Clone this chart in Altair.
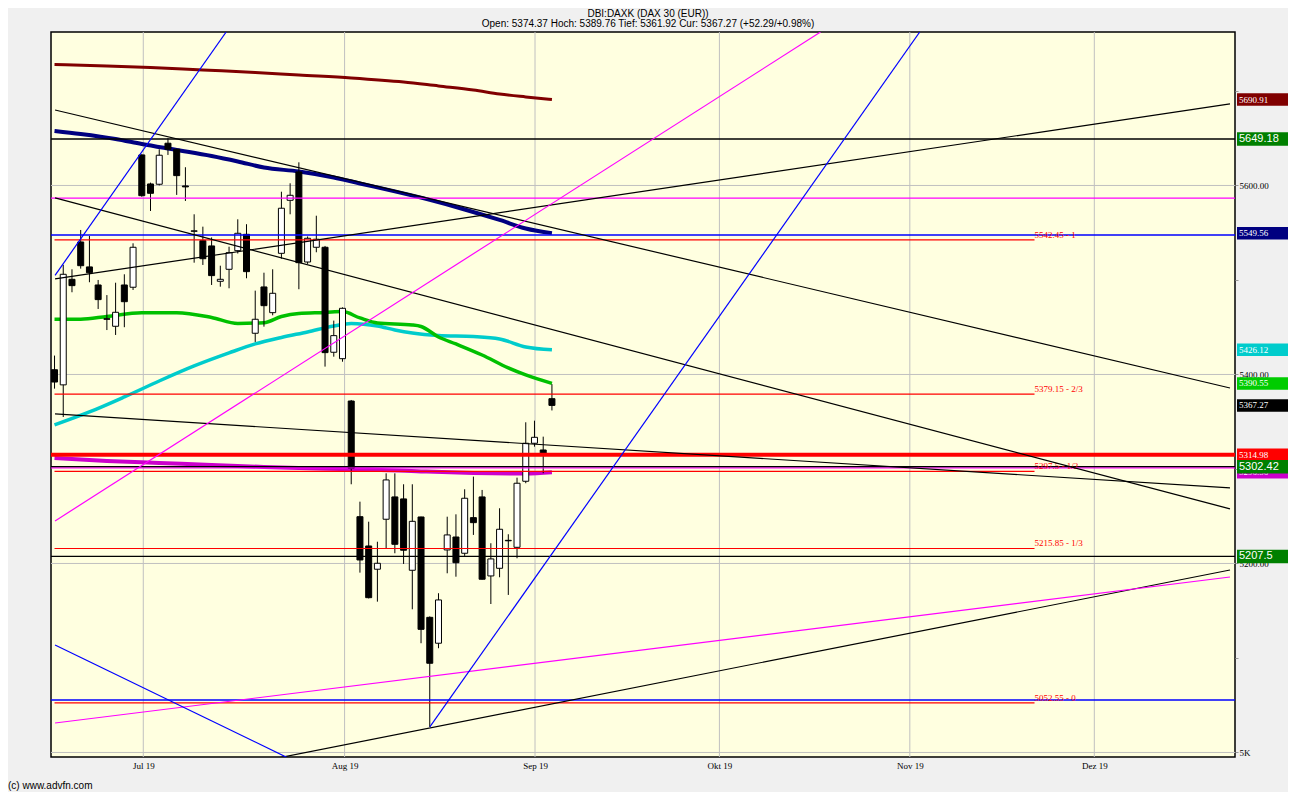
import altair as alt
import pandas as pd

# ---------------- data ----------------
# trading-day index (0 = first trading day of July 2019)
idx = list(range(-10, 48))
opens = [5405, 5389, 5500.7, 5540.2, 5513.8, 5494.7, 5459, 5451, 5494.7, 5492.3,
         5632.3, 5601.6, 5601.3, 5644.7, 5638.3, 5599.5, 5551.5, 5541.6, 5536, 5498.6,
         5511.3, 5531, 5548.3, 5443.6, 5492.6, 5465.4, 5528.2, 5584.3, 5614.3, 5519,
         5534.6, 5534.6, 5423.5, 5416.7, 5371.9, 5249.5, 5218.5, 5193.9, 5246.8, 5270.4,
         5268.3, 5192.8, 5249.2, 5143, 5115.6, 5214.3, 5228, 5210.8, 5248.5, 5270.4,
         5186.8, 5194.9, 5224.5, 5217.1, 5287, 5327.2, 5320.1, 5374.37]
highs = [5420, 5516, 5511.3, 5552.9, 5546.6, 5500, 5484, 5497.1, 5506, 5538.8,
         5633, 5603, 5638.3, 5650, 5639, 5619.3, 5569.5, 5556.4, 5545, 5515.1,
         5535.2, 5564.2, 5559, 5488.7, 5507.7, 5511.3, 5593.4, 5602.3, 5624.5, 5546,
         5568, 5536, 5457, 5471, 5373, 5265.4, 5244.2, 5223, 5295.4, 5295.4,
         5283.8, 5283.8, 5249.5, 5144, 5168.5, 5249.5, 5252, 5278.5, 5291.9, 5277.8,
         5221.4, 5258.4, 5230.9, 5290.8, 5349.4, 5351.1, 5334.2, 5389.76]
lows = [5385, 5355, 5487, 5512, 5497.6, 5469.3, 5447, 5441.8, 5450, 5489.4,
        5588, 5573, 5600, 5632.3, 5590, 5583.6, 5518.3, 5515.9, 5494.7, 5492.9,
        5491.2, 5528, 5501.8, 5434.4, 5450.6, 5462.6, 5522.5, 5569.5, 5490.2, 5517,
        5529.3, 5408.3, 5418.8, 5413.5, 5283.8, 5190.3, 5163, 5159.6, 5216, 5210.8,
        5199.5, 5151.5, 5115.6, 5027, 5110.3, 5189.6, 5186, 5208, 5230.2, 5183,
        5157.1, 5185.4, 5166.7, 5205.5, 5284.9, 5323.6, 5295.5, 5361.92]
closes = [5392, 5506, 5494, 5515.1, 5507.7, 5479.2, 5458.4, 5465.8, 5477, 5534.6,
          5589.2, 5591.7, 5632, 5638.3, 5610.4, 5598.5, 5552, 5522.5, 5504.6, 5500.7,
          5528.9, 5549.4, 5508.8, 5458.4, 5472.8, 5485.9, 5575.9, 5589.6, 5518.3, 5544.1,
          5543.1, 5423.1, 5441.1, 5470, 5300.7, 5203.7, 5163.8, 5200.2, 5288.4, 5220.3,
          5214, 5244.6, 5130.3, 5094.4, 5161.4, 5230.2, 5200.8, 5269, 5243.2, 5183.3,
          5204.8, 5236.2, 5224, 5284.9, 5327.2, 5333.5, 5314.98, 5367.27]

# moving averages (index, value)
ma200_i = [-10, -4, 1, 7, 13, 18, 24, 30, 34, 38, 41, 44, 47]
ma200_v = [5728.0, 5726.5, 5724.9, 5722.2, 5719.6, 5716.9, 5713.8, 5709.5, 5705.3, 5701.1, 5696.8, 5693.7, 5690.91]
ma100_i = [-10, -7, -3, 0, 4, 8, 11, 14, 18, 22, 25, 29, 33, 37, 41, 44, 47]
ma100_v = [5657.7, 5654.5, 5649.2, 5643.9, 5637.6, 5631.2, 5625.4, 5619.0, 5614.8, 5608.5, 5602.1,
           5593.7, 5584.7, 5574.6, 5563.5, 5554.5, 5549.56]
ma38_i = [-10, -7, -4, 0, 4, 8, 11, 14, 16, 18, 21, 23, 25, 27, 31, 32, 34, 36, 39, 42, 44, 47]
ma38_v = [5458.4, 5458.4, 5461.4, 5465.4, 5465.4, 5460.3, 5454.0, 5454.8, 5461.4, 5464.6, 5465.6,
          5466.5, 5459.8, 5454.5, 5452.4, 5450.8, 5439.7, 5432.3, 5420.6, 5406.9, 5399.5, 5390.55]
ma90_i = [-10, -6, -2, 2, 6, 10, 13, 16, 19, 22, 24, 27, 29, 31, 34, 38, 41, 44, 47]
ma90_v = [5346.6, 5360.3, 5376.2, 5393.1, 5409.0, 5422.8, 5432.3, 5439.2, 5445.0, 5451.3, 5454.0,
          5451.3, 5447.1, 5443.9, 5441.3, 5440.2, 5437.6, 5429.1, 5426.12]
ma_m_i = [-10, -4, 2, 8, 14, 20, 26, 32, 38, 44, 47]
ma_m_v = [5311.6, 5308.5, 5306.3, 5304.2, 5302.1, 5300.5, 5299.5, 5297.4, 5295.8, 5295.2, 5296.56]

# horizontal levels across the whole chart
h_black = [5649.18, 5302.42, 5207.5]
h_magenta = [5586.5, 5301.2]
h_blue = [5547.5, 5055.5]
h_red_thick = [5314.98]

# fibonacci-style thirds
fib_levels = [5542.45, 5379.15, 5297.5, 5215.85, 5052.55]
fib_names = ["1", "2/3", "1/2", "1/3", "0"]
fib_start, fib_end = -10, 102.3

# trend lines: (i0, v0, i1, v1)
black_lines = [(-9.94, 5679.9, 124.7, 5385.7), (-9.94, 5586.8, 124.7, 5257.7),
               (-9.94, 5358.2, 124.7, 5279.9), (-9.94, 5501.1, 124.7, 5686.3),
               (15.63, 4994.2, 124.7, 5193.1)]
magenta_lines = [(-9.94, 5245.0, 77.78, 5762.4), (-9.94, 5031.2, 124.7, 5185.7)]
blue_lines = [(-9.94, 5504.9, 9.67, 5762.4), (33.01, 5027.0, 89.15, 5762.4),
              (-9.94, 5113.8, 16.76, 4994.2)]

# right-hand value tags
tag_vals = [5690.91, 5549.56, 5426.12, 5390.55, 5367.27, 5314.98, 5296.56]
tag_text = ["5690.91", "5549.56", "5426.12", "5390.55", "5367.27", "5314.98", "5296.56"]
tag_colors = ["#800000", "#000080", "#00CCCC", "#00CC00", "#000000", "#FF0000", "#CC00CC"]
big_vals = [5649.18, 5302.42, 5207.5]
big_text = ["5649.18", "5302.42", "5207.5"]

month_pos = [0.17, 23.24, 45.06, 66.19, 88.01, 109.15]
month_lab = ["Jul 19", "Aug 19", "Sep 19", "Okt 19", "Nov 19", "Dez 19"]
grid_y = [5000, 5200, 5400, 5600]
y_ticks = [5000, 5100, 5200, 5300, 5400, 5500, 5600, 5700]

title_main = "DBI:DAXK (DAX 30 (EUR))"
chg = closes[-1] - closes[-2]
title_sub = (f"Open: {opens[-1]} Hoch: {highs[-1]} Tief: {lows[-1]} Cur: {closes[-1]} "
             f"(+{chg:.2f}/+{chg / closes[-2] * 100:.2f}%)")
copyright_txt = ["(c) www.advfn.com"]

# ---------------- chart ----------------
W, H = 1184, 725
xs = alt.Scale(domain=[-9.83, 124.7], nice=False, zero=False)
ys = alt.Scale(domain=[4995.2, 5762.4], nice=False, zero=False)

x_expr = "''"
for p, l in reversed(list(zip(month_pos, month_lab))):
    x_expr = f"abs(datum.value - {p}) < 0.01 ? '{l}' : {x_expr}"

SERIF = "Liberation Serif"
SANS = "Liberation Sans"

xaxis = alt.Axis(values=month_pos, labelExpr=x_expr, title=None, grid=False, ticks=False,
                 domain=False, labelFont=SERIF, labelFontSize=9, labelColor="black",
                 labelPadding=4, labelOverlap=False, labelFlush=False, orient="bottom", zindex=0)
yaxis = alt.Axis(values=y_ticks,
                 labelExpr="datum.value % 200 == 0 ? (datum.value == 5000 ? '5K' : format(datum.value, '.2f')) : ''",
                 title=None, grid=False, orient="right", tickSize=3, tickColor="#999999",
                 domain=False, labelFont=SERIF, labelFontSize=9, labelColor="black",
                 labelPadding=1, labelOverlap=False, labelFlush=False, zindex=0)


def X(f):
    return alt.X(f, type="quantitative", scale=xs, axis=xaxis)


def Y(f):
    return alt.Y(f, type="quantitative", scale=ys, axis=yaxis)


layers = []

# grid
layers.append(alt.Chart(pd.DataFrame({"v": grid_y})).mark_rule(color="#C0C0C0", strokeWidth=1).encode(y=Y("v")))
layers.append(alt.Chart(pd.DataFrame({"i": month_pos})).mark_rule(color="#C0C0C0", strokeWidth=1).encode(x=X("i")))


def ma(ii, vv, color, w):
    return alt.Chart(pd.DataFrame({"i": ii, "v": vv})).mark_line(
        color=color, strokeWidth=w, clip=True, interpolate="monotone").encode(x=X("i"), y=Y("v"))


layers += [ma(ma200_i, ma200_v, "#800000", 3), ma(ma100_i, ma100_v, "#000080", 4),
           ma(ma90_i, ma90_v, "#00CCCC", 3.5), ma(ma38_i, ma38_v, "#00C000", 3.5),
           ma(ma_m_i, ma_m_v, "#CC00CC", 4)]

# candles
cdf = pd.DataFrame({"i": idx, "open": opens, "high": highs, "low": lows, "close": closes})
layers.append(alt.Chart(cdf).mark_rule(color="black", strokeWidth=1, clip=True).encode(
    x=X("i"), y=Y("low"), y2="high"))
layers.append(alt.Chart(cdf).mark_bar(width=6, stroke="black", strokeWidth=1, opacity=1, clip=True).encode(
    x=X("i"), y=Y("open"), y2="close",
    fill=alt.condition("datum.close >= datum.open", alt.value("white"), alt.value("black"))))


def hlines(vals, color, w):
    return alt.Chart(pd.DataFrame({"v": vals})).mark_rule(color=color, strokeWidth=w).encode(y=Y("v"))


layers += [hlines(h_magenta, "#FF00FF", 1.2), hlines(h_blue, "#0000FF", 1.5),
           hlines(h_red_thick, "#FF0000", 4), hlines(h_black, "#000000", 1.3)]

# fib segments + labels
fdf = pd.DataFrame({"v": fib_levels, "i0": [fib_start] * len(fib_levels), "i1": [fib_end] * len(fib_levels),
                    "lab": [f"{v} - {n}" for v, n in zip(fib_levels, fib_names)]})
layers.append(alt.Chart(fdf).mark_rule(color="#FF0000", strokeWidth=1.2, clip=True).encode(
    x=X("i0"), x2="i1", y=Y("v")))
layers.append(alt.Chart(fdf).mark_text(color="#FF0000", align="left", baseline="alphabetic", dy=-2,
                                       font=SERIF, fontSize=9).encode(x=X("i1"), y=Y("v"), text="lab:N"))


def tlines(lst, color):
    rows = []
    for k, (i0, v0, i1, v1) in enumerate(lst):
        rows += [{"k": k, "i": i0, "v": v0}, {"k": k, "i": i1, "v": v1}]
    return alt.Chart(pd.DataFrame(rows)).mark_line(color=color, strokeWidth=1.2, clip=True).encode(
        x=X("i"), y=Y("v"), detail="k:N")


layers += [tlines(black_lines, "#000000"), tlines(magenta_lines, "#FF00FF"), tlines(blue_lines, "#0000FF")]

# right value tags
tdf = pd.DataFrame({"v": tag_vals, "lab": tag_text})
layers.append(alt.Chart(tdf).mark_tick(orient="horizontal", thickness=12.5, size=59, opacity=1).encode(
    x=alt.value(W + 31.5), y=Y("v"),
    color=alt.Color("lab:N", scale=alt.Scale(domain=tag_text, range=tag_colors), legend=None)))
layers.append(alt.Chart(tdf).mark_text(color="white", align="left", baseline="middle", font=SERIF,
                                       fontSize=9).encode(x=alt.value(W + 4), y=Y("v"), text="lab:N"))
bdf = pd.DataFrame({"v": big_vals, "lab": big_text})
layers.append(alt.Chart(bdf).mark_tick(orient="horizontal", thickness=13.5, size=59, opacity=1,
                                       color="#008000").encode(x=alt.value(W + 31.5), y=Y("v")))
layers.append(alt.Chart(bdf).mark_text(color="white", align="left", baseline="middle", font=SANS,
                                       fontSize=11).encode(x=alt.value(W + 4), y=Y("v"), text="lab:N"))

# copyright
layers.append(alt.Chart(pd.DataFrame({"t": copyright_txt})).mark_text(
    align="left", baseline="middle", font=SANS, fontSize=10, color="black").encode(
    x=alt.value(-43), y=alt.value(H + 29), text="t:N"))

chart = alt.layer(*layers).properties(
    width=W, height=H,
    autosize=alt.AutoSizeParams(type="none"),
    padding={"left": 43, "top": 24, "right": 53, "bottom": 35},
    title=alt.TitleParams(text=title_main, subtitle=title_sub, font=SANS, fontSize=10,
                          fontWeight="normal", color="black", subtitleFont=SANS, subtitleFontSize=10,
                          subtitleColor="black", subtitlePadding=0, anchor="middle", offset=3, dx=5),
).configure(background="#F0F0F0").configure_view(fill="#FFFFE0", stroke="black", strokeWidth=1.5)

chart.save("out.html", embed_options={"renderer": "svg", "actions": False})
